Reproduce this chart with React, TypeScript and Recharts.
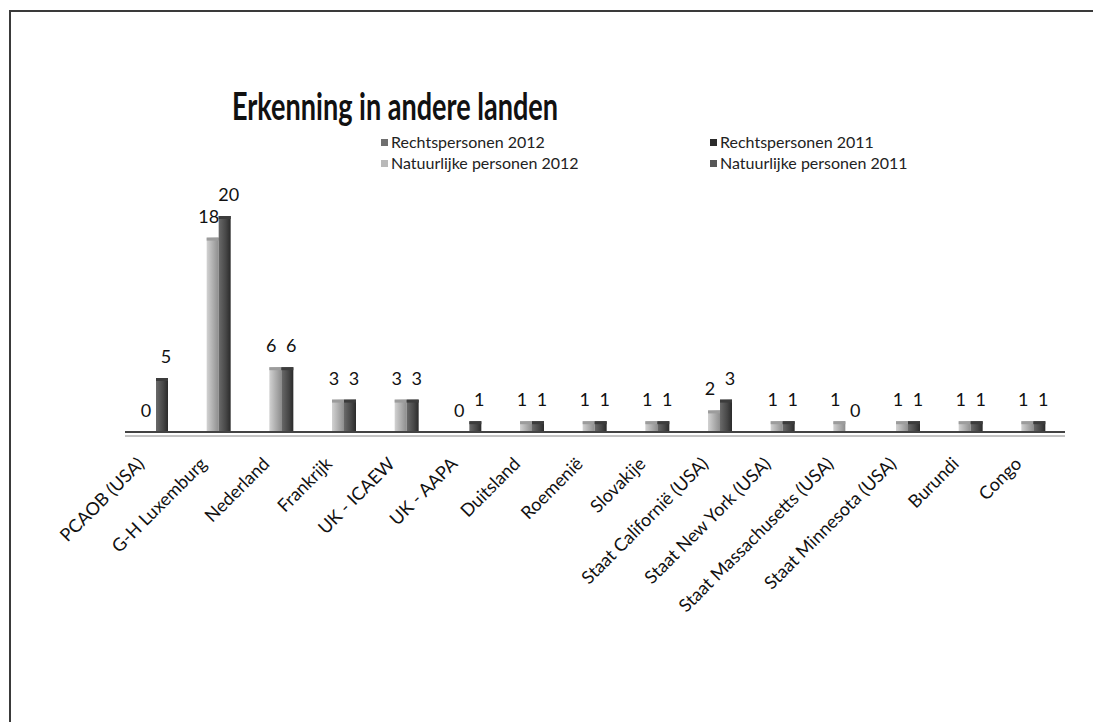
import { Bar, BarChart, LabelList, ReferenceLine, XAxis, YAxis } from "recharts";

const CATEGORIES = [
  "PCAOB (USA)",
  "G-H  Luxemburg",
  "Nederland",
  "Frankrijk",
  "UK - ICAEW",
  "UK - AAPA",
  "Duitsland",
  "Roemenië",
  "Slovakije",
  "Staat Californië (USA)",
  "Staat New York (USA)",
  "Staat Massachusetts (USA)",
  "Staat Minnesota (USA)",
  "Burundi",
  "Congo",
];
const NATUURLIJK_2012 = [0, 18, 6, 3, 3, 0, 1, 1, 1, 2, 1, 1, 1, 1, 1];
const NATUURLIJK_2011 = [5, 20, 6, 3, 3, 1, 1, 1, 1, 3, 1, 0, 1, 1, 1];

const LEGEND_NAMES = [
  "Rechtspersonen 2012",
  "Natuurlijke personen 2012",
  "Rechtspersonen 2011",
  "Natuurlijke personen 2011",
];
const LEGEND_COLORS = ["#6f6f6f", "#b9b9b9", "#2b2b2b", "#575757"];

const FONT = "Lato, 'Open Sans', sans-serif";

const data = CATEGORIES.map((name, i) => ({
  name,
  n2012: NATUURLIJK_2012[i],
  n2011: NATUURLIJK_2011[i],
}));

function Bar3D(props: any) {
  const { x, y, width, height, grad, top } = props;
  if (!height || height <= 0) return null;
  return (
    <g>
      <rect x={x} y={y} width={width} height={height} fill={`url(#${grad})`} />
      <rect x={x} y={y} width={width} height={3} fill={top} />
    </g>
  );
}

function RotatedTick(props: any) {
  const { x, y, payload } = props;
  return (
    <g transform={`translate(${x - 11},${y + 25})`}>
      <text
        textAnchor="end"
        transform="rotate(-45)"
        fontFamily={FONT}
        fontSize={18}
        fill="#111"
      >
        {payload.value}
      </text>
    </g>
  );
}

function makeLabel(dx: number) {
  return (props: any) => {
    const { x, y, width, value } = props;
    return (
      <text
        x={x + width / 2 + dx}
        y={y - 15}
        textAnchor="middle"
        fontFamily={FONT}
        fontSize={18}
        fill="#111"
      >
        {value}
      </text>
    );
  };
}

export default function App() {
  return (
    <div style={{ position: "absolute", left: 0, top: 0, width: 1093, height: 722, background: "#fff" }}>
      <div
        style={{
          position: "absolute",
          left: 9,
          top: 10,
          right: 0,
          bottom: 0,
          borderTop: "2px solid #3a3a3a",
          borderLeft: "2px solid #3a3a3a",
        }}
      />
      <svg style={{ position: "absolute", left: 0, top: 0 }} width={1093} height={200}>
        <text x={232} y={120} fontFamily={FONT} fontWeight={700} fontSize={38} fill="#111" textLength={326} lengthAdjust="spacingAndGlyphs">
          Erkenning in andere landen
        </text>
        {LEGEND_NAMES.map((name, i) => {
          const col = Math.floor(i / 2);
          const row = i % 2;
          const sx = col === 0 ? 381 : 710;
          const cy = row === 0 ? 143 : 164;
          return (
            <g key={name}>
              <rect x={sx} y={cy - 4} width={7} height={7} fill={LEGEND_COLORS[i]} />
              <text x={sx + 10} y={cy + 5} fontFamily={FONT} fontSize={16} fill="#222">
                {name}
              </text>
            </g>
          );
        })}
      </svg>
      <div style={{ position: "absolute", left: 0, top: 0 }}>
        <BarChart
          width={1093}
          height={722}
          data={data}
          margin={{ top: 216, right: 28, bottom: 40, left: 125 }}
          barSize={12}
          barGap={0}
        >
          <defs>
            <linearGradient id="gLight" x1="0" y1="0" x2="1" y2="0">
              <stop offset="0" stopColor="#d2d2d2" />
              <stop offset="0.5" stopColor="#b0b0b0" />
              <stop offset="1" stopColor="#8e8e8e" />
            </linearGradient>
            <linearGradient id="gDark" x1="0" y1="0" x2="1" y2="0">
              <stop offset="0" stopColor="#6a6a6a" />
              <stop offset="0.6" stopColor="#474747" />
              <stop offset="1" stopColor="#2a2a2a" />
            </linearGradient>
          </defs>
          <XAxis
            dataKey="name"
            interval={0}
            height={250}
            tickLine={false}
            axisLine={{ stroke: "#444", strokeWidth: 2 }}
            tick={<RotatedTick />}
          />
          <YAxis hide domain={[0, 20]} />
          <ReferenceLine y={0} stroke="#888" strokeWidth={1} transform="translate(0,4)" />
          <Bar
            dataKey="n2012"
            name="Natuurlijke personen 2012"
            isAnimationActive={false}
            shape={<Bar3D grad="gLight" top="#9c9c9c" />}
          >
            <LabelList dataKey="n2012" content={makeLabel(-4)} />
          </Bar>
          <Bar
            dataKey="n2011"
            name="Natuurlijke personen 2011"
            isAnimationActive={false}
            shape={<Bar3D grad="gDark" top="#3c3c3c" />}
          >
            <LabelList dataKey="n2011" content={makeLabel(4)} />
          </Bar>
        </BarChart>
      </div>
    </div>
  );
}
